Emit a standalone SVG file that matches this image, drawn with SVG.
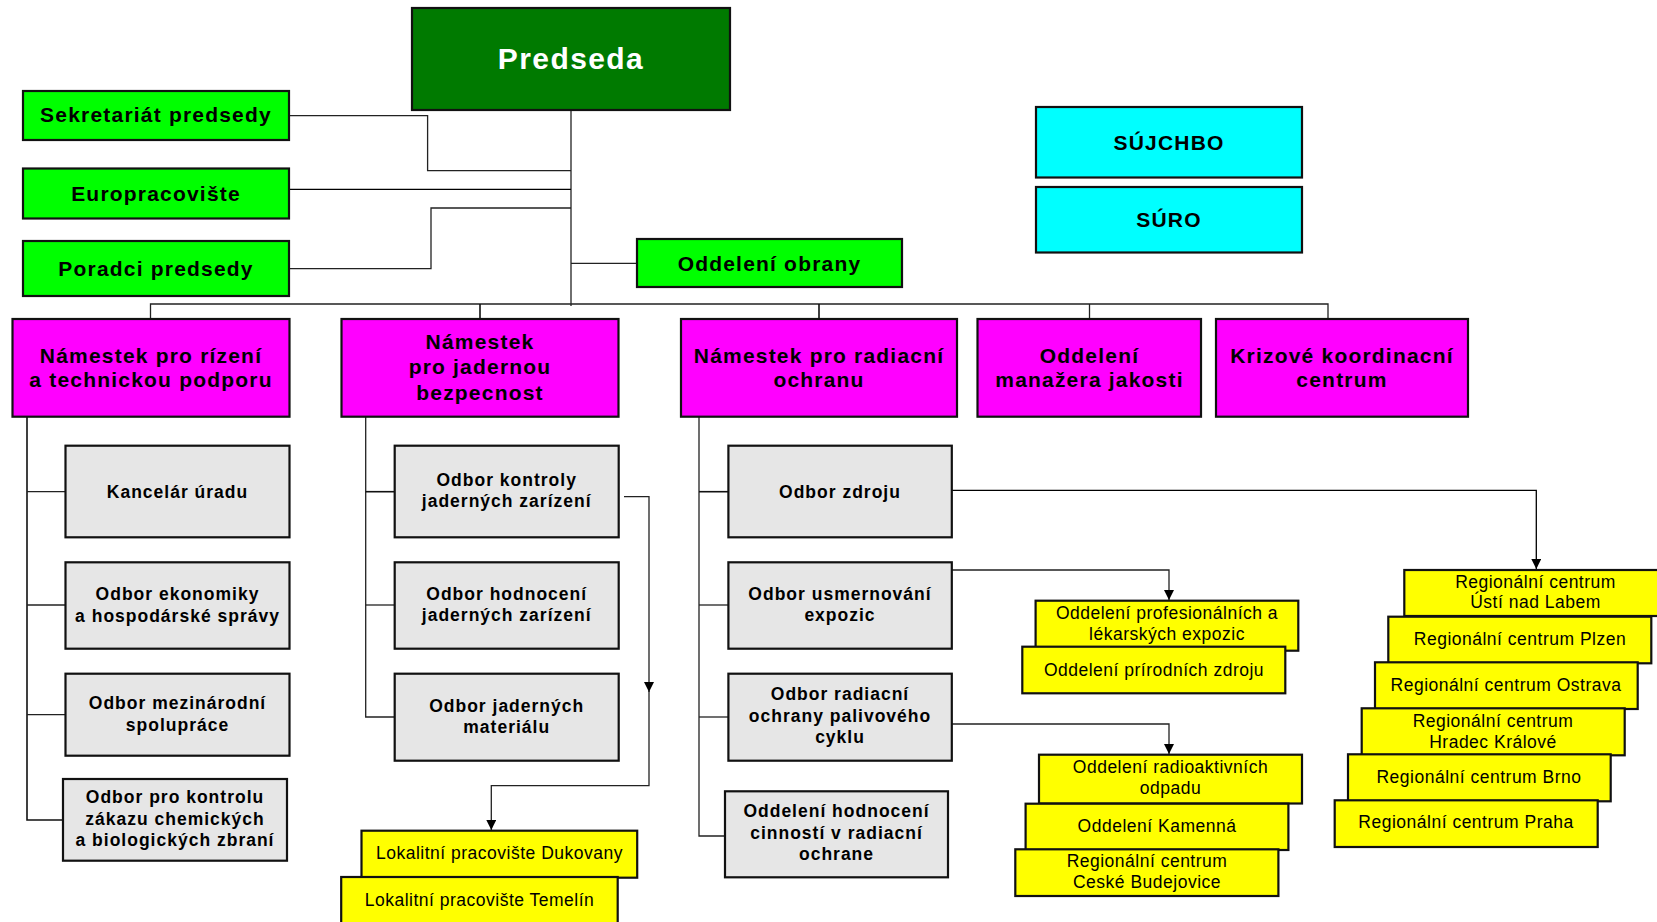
<svg xmlns="http://www.w3.org/2000/svg" width="1657" height="922" viewBox="0 0 1657 922">
<defs>
<marker id="arr" viewBox="0 0 10 10" refX="10" refY="5" markerWidth="10" markerHeight="10" markerUnits="userSpaceOnUse" orient="auto"><path d="M0,0 L10,5 L0,10 z" fill="#000"/></marker>
<style>
rect{stroke:#111;stroke-width:2.2}
.dg{fill:#007a00}.g{fill:#00ff00}.m{fill:#ff00ff}.c{fill:#00ffff}.gr{fill:#e6e6e6}.y{fill:#ffff00}
text{font-family:"Liberation Sans",Arial,sans-serif;text-anchor:middle;fill:#000}
.t1{font-size:30px;font-weight:bold;fill:#fff;letter-spacing:1.4px}
.t2{font-size:21px;font-weight:bold;letter-spacing:1.2px}
.t3{font-size:17.5px;font-weight:bold;letter-spacing:1px}
.t4{font-size:17.5px;letter-spacing:0.5px}
.cn path{fill:none;stroke:#222;stroke-width:1.3}
.cn .k{stroke-width:1.6;stroke:#111}
</style>
</defs>
<rect width="1657" height="922" fill="#fff" style="stroke:none"/>
<g class="cn" id="connectors">
<path d="M571,110 V306"/>
<path d="M289,115.7 H427.6 V170.7 H571"/>
<path d="M289,189.3 H571" style="stroke:#000"/>
<path d="M289,268.7 H431 V208 H571"/>
<path d="M571,263.3 H637"/>
<path d="M150.5,319 V304 H1328 V319"/>
<path d="M480,304 V319" class="k"/>
<path d="M819,304 V319" class="k"/>
<path d="M1089.5,304 V319"/>
<path class="k" d="M27,416.7 V820 H63"/>
<path d="M27,491.7 H65.5"/>
<path d="M27,605 H65.5"/>
<path d="M27,714.7 H65.5"/>
<path d="M365.7,416.7 V717 H394.7"/>
<path class="k" d="M365.7,491.7 H394.7"/>
<path d="M365.7,605 H394.7"/>
<path d="M699,416.7 V836 H725"/>
<path class="k" d="M699,491.7 H728.4"/>
<path d="M699,605 H728.4"/>
<path d="M699,717 H728.4"/>
<path d="M624,496.7 H649 V692" marker-end="url(#arr)"/>
<path d="M649,690 V785.7 H491.3 V830" marker-end="url(#arr)"/>
<path d="M951.8,490.3 H1536.3 V569" marker-end="url(#arr)" style="stroke:#000"/>
<path d="M949,570 H1169 V600" marker-end="url(#arr)"/>
<path d="M949,724 H1169 V754" marker-end="url(#arr)"/>
</g>
<g id="predseda"><rect class="dg" x="412" y="8" width="318" height="102"/><text class="t1" x="571" y="68.5">Predseda</text></g>
<g id="sekretariat"><rect class="g" x="23" y="91" width="266" height="49"/><text class="t2" x="156" y="122">Sekretariát predsedy</text></g>
<g id="europracoviste"><rect class="g" x="23" y="168.5" width="266" height="50"/><text class="t2" x="156" y="201">Europracovište</text></g>
<g id="poradci"><rect class="g" x="23" y="241" width="266" height="55"/><text class="t2" x="156" y="275.5">Poradci predsedy</text></g>
<g id="obrana"><rect class="g" x="637" y="239" width="265" height="48"/><text class="t2" x="769.5" y="270.5">Oddelení obrany</text></g>
<g id="sujchbo"><rect class="c" x="1036" y="107" width="266" height="70.5"/><text class="t2" x="1169" y="149.5">SÚJCHBO</text></g>
<g id="suro"><rect class="c" x="1036" y="187" width="266" height="65.5"/><text class="t2" x="1169" y="227">SÚRO</text></g>
<g id="nam-rizeni"><rect class="m" x="12.5" y="319" width="277" height="97.7"/><text class="t2" x="151" y="362.5">Námestek pro rízení</text><text class="t2" x="151" y="387">a technickou podporu</text></g>
<g id="nam-jaderna"><rect class="m" x="341.5" y="319" width="277" height="97.7"/><text class="t2" x="480" y="349">Námestek</text><text class="t2" x="480" y="374">pro jadernou</text><text class="t2" x="480" y="399.5">bezpecnost</text></g>
<g id="nam-radiacni"><rect class="m" x="681" y="319" width="276" height="97.7"/><text class="t2" x="819" y="362.5">Námestek pro radiacní</text><text class="t2" x="819" y="387">ochranu</text></g>
<g id="manazer"><rect class="m" x="977.5" y="319" width="223.5" height="97.7"/><text class="t2" x="1089.5" y="362.5">Oddelení</text><text class="t2" x="1089.5" y="387">manažera jakosti</text></g>
<g id="krizove"><rect class="m" x="1216" y="319" width="252" height="97.7"/><text class="t2" x="1342" y="362.5">Krizové koordinacní</text><text class="t2" x="1342" y="387">centrum</text></g>
<g id="kancelar"><rect class="gr" x="65.5" y="445.7" width="224" height="91.6"/><text class="t3" x="177.5" y="497.5">Kancelár úradu</text></g>
<g id="ekonomika"><rect class="gr" x="65.5" y="562.3" width="224" height="86.4"/><text class="t3" x="177.5" y="599.5">Odbor ekonomiky</text><text class="t3" x="177.5" y="621.5">a hospodárské správy</text></g>
<g id="mezinarodni"><rect class="gr" x="65.5" y="673.7" width="224" height="82"/><text class="t3" x="177.5" y="709">Odbor mezinárodní</text><text class="t3" x="177.5" y="731">spolupráce</text></g>
<g id="chem"><rect class="gr" x="63" y="779" width="224" height="81.7"/><text class="t3" x="175" y="803">Odbor pro kontrolu</text><text class="t3" x="175" y="824.5">zákazu chemických</text><text class="t3" x="175" y="846">a biologických zbraní</text></g>
<g id="kontroly"><rect class="gr" x="394.7" y="445.7" width="224" height="91.6"/><text class="t3" x="506.7" y="486">Odbor kontroly</text><text class="t3" x="506.7" y="507">jaderných zarízení</text></g>
<g id="hodnoceni"><rect class="gr" x="394.7" y="562.3" width="224" height="86.4"/><text class="t3" x="506.7" y="600">Odbor hodnocení</text><text class="t3" x="506.7" y="621">jaderných zarízení</text></g>
<g id="materialy"><rect class="gr" x="394.7" y="673.7" width="224" height="87"/><text class="t3" x="506.7" y="712">Odbor jaderných</text><text class="t3" x="506.7" y="733">materiálu</text></g>
<g id="zdroju"><rect class="gr" x="728.4" y="445.7" width="223.4" height="91.6"/><text class="t3" x="840" y="497.5">Odbor zdroju</text></g>
<g id="usmernovani"><rect class="gr" x="728.4" y="562.3" width="223.4" height="86.4"/><text class="t3" x="840" y="600">Odbor usmernování</text><text class="t3" x="840" y="621">expozic</text></g>
<g id="palivovy"><rect class="gr" x="728.4" y="673.7" width="223.4" height="87"/><text class="t3" x="840" y="700">Odbor radiacní</text><text class="t3" x="840" y="721.5">ochrany palivového</text><text class="t3" x="840" y="743">cyklu</text></g>
<g id="hodnoceni-rad"><rect class="gr" x="725" y="791.3" width="223" height="86"/><text class="t3" x="836.5" y="816.5">Oddelení hodnocení</text><text class="t3" x="836.5" y="838.5">cinností v radiacní</text><text class="t3" x="836.5" y="860">ochrane</text></g>
<g id="dukovany"><rect class="y" x="361.5" y="830.7" width="275.7" height="47"/><text class="t4" x="499.5" y="859">Lokalitní pracovište Dukovany</text></g>
<g id="temelin"><rect class="y" x="341.2" y="877" width="276.5" height="55"/><text class="t4" x="479.5" y="905.5">Lokalitní pracovište Temelín</text></g>
<g id="profesionalni"><rect class="y" x="1035.6" y="600.7" width="262.7" height="50"/><text class="t4" x="1167" y="619">Oddelení profesionálních a</text><text class="t4" x="1167" y="640">lékarských expozic</text></g>
<g id="prirodni"><rect class="y" x="1022.3" y="646.7" width="263" height="46.6"/><text class="t4" x="1154" y="676">Oddelení prírodních zdroju</text></g>
<g id="radioaktivni"><rect class="y" x="1039" y="754.7" width="263" height="48.8"/><text class="t4" x="1170.5" y="773">Oddelení radioaktivních</text><text class="t4" x="1170.5" y="794">odpadu</text></g>
<g id="kamenna"><rect class="y" x="1025.6" y="803.7" width="262.8" height="46.3"/><text class="t4" x="1157" y="831.5">Oddelení Kamenná</text></g>
<g id="budejovice"><rect class="y" x="1015.3" y="849.3" width="263.1" height="46.7"/><text class="t4" x="1147" y="867">Regionální centrum</text><text class="t4" x="1147" y="887.5">Ceské Budejovice</text></g>
<g id="usti"><rect class="y" x="1404.3" y="570" width="263" height="46"/><text class="t4" x="1535.5" y="587.5">Regionální centrum</text><text class="t4" x="1535.5" y="608">Ústí nad Labem</text></g>
<g id="plzen"><rect class="y" x="1388.3" y="616.7" width="263" height="46.6"/><text class="t4" x="1520" y="644.5">Regionální centrum Plzen</text></g>
<g id="ostrava"><rect class="y" x="1375" y="662.3" width="262.7" height="46.7"/><text class="t4" x="1506" y="691">Regionální centrum Ostrava</text></g>
<g id="hradec"><rect class="y" x="1361.7" y="708.3" width="263" height="47"/><text class="t4" x="1493" y="727">Regionální centrum</text><text class="t4" x="1493" y="748">Hradec Králové</text></g>
<g id="brno"><rect class="y" x="1348" y="754.3" width="262.7" height="47"/><text class="t4" x="1479" y="783">Regionální centrum Brno</text></g>
<g id="praha"><rect class="y" x="1334.7" y="800.3" width="263" height="46.7"/><text class="t4" x="1466" y="828">Regionální centrum Praha</text></g>
</svg>
